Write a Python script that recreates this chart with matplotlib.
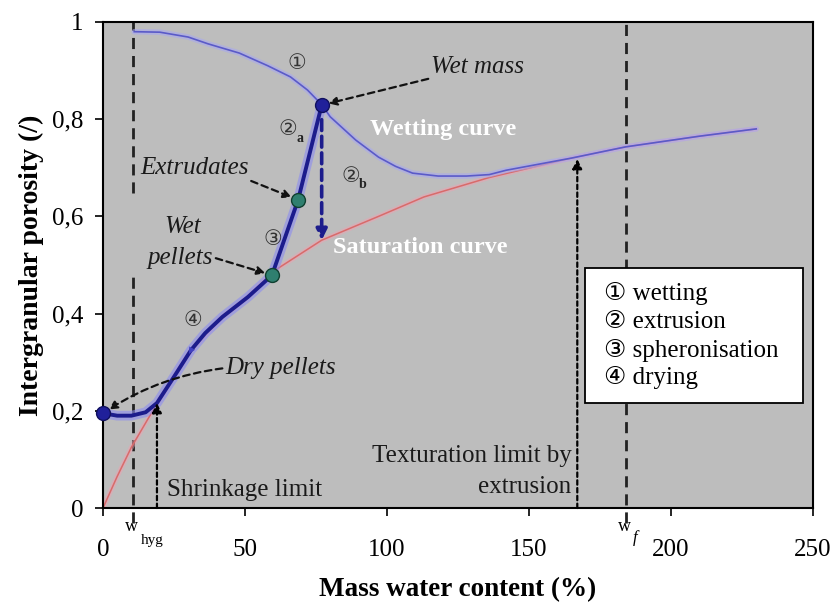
import matplotlib
matplotlib.use('Agg')
import matplotlib.pyplot as plt
from matplotlib.patches import Rectangle

plt.rcParams['font.family'] = ['Liberation Serif', 'DejaVu Sans']

# ---- data ----
wet_x = [11, 20, 30, 37, 48, 58, 66, 72, 77, 80, 89, 97, 103, 109, 118, 128, 136, 142, 165, 184, 210, 230]
wet_y = [0.98, 0.979, 0.969, 0.955, 0.936, 0.91, 0.887, 0.86, 0.83, 0.805, 0.757, 0.722, 0.703, 0.689,
         0.683, 0.683, 0.686, 0.695, 0.72, 0.743, 0.765, 0.78]
sat_x = [0, 5, 10, 15, 19, 25, 31, 42, 51, 60, 77, 97, 113, 136, 165, 184, 210, 230]
sat_y = [0, 0.065, 0.125, 0.175, 0.215, 0.27, 0.325, 0.393, 0.434, 0.487, 0.551, 0.6, 0.64, 0.68,
         0.72, 0.743, 0.765, 0.78]
path_x = [0, 5, 10, 15, 19, 25, 31, 36, 42, 51, 59.5, 68.7, 77]
path_y = [0.195, 0.19, 0.19, 0.197, 0.216, 0.27, 0.325, 0.36, 0.393, 0.434, 0.479, 0.634, 0.829]

dry_pellets = (0, 0.195)
wet_pellets = (59.5, 0.479)
extrudates = (68.7, 0.634)
wet_mass = (77, 0.829)
extr_bottom = (77, 0.551)

w_hyg = 10.5
shrink_lim = 19
shrink_y = 0.216
textur_lim = 167
textur_y = 0.718
w_f = 184

x_ticks = [0, 50, 100, 150, 200, 250]
y_ticks = [0, 0.2, 0.4, 0.6, 0.8, 1]
y_tick_labels = ['0', '0,2', '0,4', '0,6', '0,8', '1']
legend_items = ['\u2460 wetting', '\u2461 extrusion', '\u2462 spheronisation', '\u2463 drying']

fig = plt.figure(figsize=(8.36, 6.02), dpi=100)
ax = fig.add_axes([0.1232, 0.1561, 0.8493, 0.8074])
ax.set_facecolor('#bdbdbd')
ax.set_xlim(0, 250)
ax.set_ylim(0, 1)

navy = '#1c1c8c'
TXT = 18

# vertical reference lines
ax.plot([w_hyg, w_hyg], [0.648, 1.0], ls=(0, (4, 2.5)), color='#222222', lw=2)
ax.plot([w_hyg, w_hyg], [-0.03, 0.475], ls=(0, (4, 2.5)), color='#222222', lw=2, clip_on=False)
ax.plot([w_f, w_f], [-0.03, 1.0], ls=(0, (4, 2.5)), color='#222222', lw=2, clip_on=False, zorder=1)
ax.annotate('', xy=(shrink_lim, shrink_y), xytext=(shrink_lim, 0),
            arrowprops=dict(arrowstyle='-|>', color='black', lw=1.6, ls=(0, (2, 1.5)),
                            mutation_scale=14, shrinkA=0, shrinkB=0))
ax.annotate('', xy=(textur_lim, textur_y), xytext=(textur_lim, 0),
            arrowprops=dict(arrowstyle='-|>', color='black', lw=1.6, ls=(0, (2, 1.5)),
                            mutation_scale=14, shrinkA=0, shrinkB=0))

# curves
ax.plot(sat_x, sat_y, color='#f0a0b0', lw=3.5, alpha=0.5, solid_capstyle='round')
ax.plot(sat_x, sat_y, color='#d96a6a', lw=1.1)
ax.plot(wet_x, wet_y, color='#a8a8f0', lw=4, alpha=0.6, solid_capstyle='round')
ax.plot(wet_x, wet_y, color='#5a5ac8', lw=1.2)

# process path
ax.plot(path_x, path_y, color='#8c8cf0', lw=7, alpha=0.6, solid_capstyle='round')
ax.plot(path_x, path_y, color=navy, lw=2.8, solid_capstyle='round')
ax.annotate('', xy=(path_x[6] - 1.2, path_y[6] - 0.013), xytext=(path_x[6] + 0.5, path_y[6] + 0.005),
            arrowprops=dict(arrowstyle='-|>', color='#4040c0', lw=0, mutation_scale=12))

# vertical extrusion arrow 2b
ax.annotate('', xy=extr_bottom, xytext=(wet_mass[0], wet_mass[1] - 0.03),
            arrowprops=dict(arrowstyle='-|>', color=navy, lw=2.6, ls=(0, (3, 1.6)),
                            mutation_scale=16, shrinkA=0, shrinkB=0))

# markers
ax.plot(*dry_pellets, 'o', color='#20209a', ms=10, mec='#101060', clip_on=False, zorder=5)
ax.plot(*wet_mass, 'o', color='#20209a', ms=10, mec='#101060', zorder=5)
ax.plot(*wet_pellets, 'o', color='#2f7f6f', ms=10, mec='#104030', zorder=5)
ax.plot(*extrudates, 'o', color='#2f7f6f', ms=10, mec='#104030', zorder=5)

# annotations with dashed arrows
ann_kw = dict(fontsize=TXT, style='italic', color='#1a1a1a')
arr_kw = dict(arrowstyle='-|>', color='#111111', lw=1.6, ls=(0, (3, 2)), mutation_scale=12, shrinkA=0, shrinkB=5)
ax.annotate('Wet mass', xy=wet_mass, xytext=(115.5, 0.908), va='center', ha='left',
            arrowprops=arr_kw, **ann_kw)
ax.annotate('Extrudates', xy=extrudates, xytext=(13, 0.70), va='center', ha='left',
            arrowprops=dict(arr_kw, relpos=(0.9, 0.15)), **ann_kw)
ax.text(28, 0.578, 'Wet', ha='center', va='center', **ann_kw)
ax.annotate('pellets', xy=wet_pellets, xytext=(15.5, 0.514), va='center', ha='left',
            arrowprops=dict(arr_kw, relpos=(1.05, 0.5)), **ann_kw)
ax.annotate('Dry pellets', xy=dry_pellets, xytext=(43, 0.288), va='center', ha='left',
            arrowprops=dict(arr_kw, relpos=(0, 0.5), connectionstyle='arc3,rad=0.12'), **ann_kw)

ax.text(94, 0.778, 'Wetting curve', color='white', fontsize=TXT - 0.5, fontweight='bold', va='center')
ax.text(81, 0.537, 'Saturation curve', color='white', fontsize=TXT - 0.5, fontweight='bold', va='center')

# step numbers
num_kw = dict(fontsize=15, color='#333333', ha='center', va='center')
ax.text(68.3, 0.912, '\u2460', **num_kw)
ax.text(65.0, 0.776, '\u2461', **num_kw)
ax.text(69.3, 0.760, 'a', fontsize=10, fontweight='bold', color='#222222', ha='center', va='center')
ax.text(87.2, 0.681, '\u2461', **num_kw)
ax.text(91.5, 0.665, 'b', fontsize=10, fontweight='bold', color='#222222', ha='center', va='center')
ax.text(59.9, 0.551, '\u2462', **num_kw)
ax.text(31.7, 0.383, '\u2463', **num_kw)

ax.text(22.5, 0.037, 'Shrinkage limit', fontsize=TXT, color='#1a1a1a', va='center', ha='left')
ax.text(165, 0.107, 'Texturation limit by', fontsize=TXT, color='#1a1a1a', va='center', ha='right')
ax.text(165, 0.043, 'extrusion', fontsize=TXT, color='#1a1a1a', va='center', ha='right')

# legend box
ax.add_patch(Rectangle((169.7, 0.216), 76.8, 0.278, fc='white', ec='black', lw=1.3, zorder=6))
leg_y = [0.442, 0.383, 0.325, 0.268]
for txt, yy in zip(legend_items, leg_y):
    ax.text(176.5, yy, txt, fontsize=TXT, va='center', ha='left', zorder=7)

# w labels under axis
ax.text(9.9, -0.039, 'w', fontsize=13, ha='center', va='center', clip_on=False)
ax.text(17.3, -0.066, 'hyg', fontsize=11, ha='center', va='center', clip_on=False)
ax.text(183.5, -0.039, 'w', fontsize=13, ha='center', va='center', clip_on=False)
ax.text(187.3, -0.062, 'f', fontsize=12, style='italic', ha='center', va='center', clip_on=False)

# axes styling
ax.set_xticks(x_ticks)
ax.set_yticks(y_ticks)
ax.set_yticklabels(y_tick_labels)
ax.tick_params(direction='out', length=6, width=1.2, labelsize=18)
ax.tick_params(axis='x', pad=16)
ax.tick_params(axis='y', pad=8)
for s in ax.spines.values():
    s.set_linewidth(1.5)
ax.set_xlabel('Mass water content (%)', fontsize=19.5, fontweight='bold', labelpad=12)
ax.set_ylabel('Intergranular porosity (/)', fontsize=20, fontweight='bold', labelpad=6)

fig.savefig('out.png', dpi=100)
